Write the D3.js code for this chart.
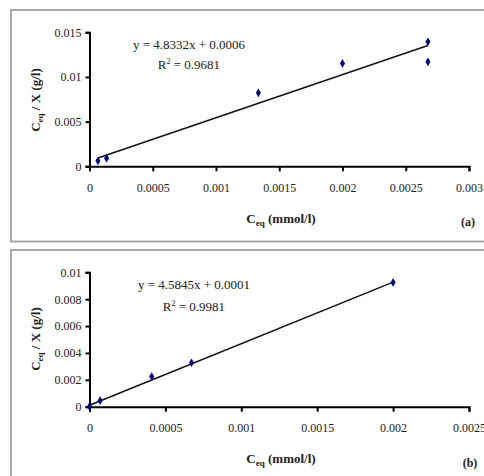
<!DOCTYPE html>
<html>
<head>
<meta charset="utf-8">
<script src="https://cdn.jsdelivr.net/npm/d3@7"></script>
<style>
  html, body { margin: 0; padding: 0; background: #fff; }
  svg { display: block; }
  text { font-family: "Liberation Serif", "Times New Roman", serif; }
</style>
</head>
<body>
<svg id="chart" width="484" height="476"></svg>
<script>
// ---- Data ----
// Panel (a)
const xA = [0.0000667, 0.000135, 0.001335, 0.002, 0.002675, 0.002675];
const yA = [0.00062, 0.00090, 0.00823, 0.01152, 0.01394, 0.01170];
const slopeA = 4.8332, interceptA = 0.0006;
const eqA = "y = 4.8332x + 0.0006";
const r2A = "0.9681";
const xTicksA = [0, 0.0005, 0.001, 0.0015, 0.002, 0.0025, 0.003];
const xTickLabelsA = ["0", "0.0005", "0.001", "0.0015", "0.002", "0.0025", "0.003"];
const yTicksA = [0, 0.005, 0.01, 0.015];
const yTickLabelsA = ["0", "0.005", "0.01", "0.015"];
const panelLabelA = "(a)";

// Panel (b)
const xB = [0, 0.00007, 0.00041, 0.000672, 0.002];
const yB = [0.00002, 0.00046, 0.00224, 0.00327, 0.00925];
const slopeB = 4.5845, interceptB = 0.0001;
const eqB = "y = 4.5845x + 0.0001";
const r2B = "0.9981";
const xTicksB = [0, 0.0005, 0.001, 0.0015, 0.002, 0.0025];
const xTickLabelsB = ["0", "0.0005", "0.001", "0.0015", "0.002", "0.0025"];
const yTicksB = [0, 0.002, 0.004, 0.006, 0.008, 0.01];
const yTickLabelsB = ["0", "0.002", "0.004", "0.006", "0.008", "0.01"];
const panelLabelB = "(b)";

const svg = d3.select("#chart");

function panel(cfg) {
  const g = svg.append("g");
  // frame
  g.append("rect")
    .attr("x", cfg.frame[0]).attr("y", cfg.frame[1])
    .attr("width", cfg.frame[2]).attr("height", cfg.frame[3])
    .attr("fill", "#fff").attr("stroke", "#a8a8a8").attr("stroke-width", 2);

  const x = d3.scaleLinear().domain([0, cfg.xMax]).range([cfg.left, cfg.right]);
  const y = d3.scaleLinear().domain([0, cfg.yMax]).range([cfg.bottom, cfg.top]);

  // trendline
  const xs = d3.extent(cfg.xs);
  g.append("line")
    .attr("x1", x(xs[0])).attr("y1", y(cfg.slope * xs[0] + cfg.intercept))
    .attr("x2", x(xs[1])).attr("y2", y(cfg.slope * xs[1] + cfg.intercept))
    .attr("stroke", "#111").attr("stroke-width", 1.6);

  // axes
  const ya = g.append("g").attr("transform", `translate(${cfg.left},0)`)
    .call(d3.axisLeft(y).tickValues(cfg.yTicks).tickSize(4).tickPadding(4)
      .tickFormat((d, i) => cfg.yLabels[i]));
  const xa = g.append("g").attr("transform", `translate(0,${cfg.bottom})`)
    .call(d3.axisBottom(x).tickValues(cfg.xTicks).tickSize(5).tickPadding(12)
      .tickFormat((d, i) => cfg.xLabels[i]));
  [ya, xa].forEach(a => {
    a.select(".domain").attr("stroke", "#000").attr("stroke-width", 2);
    a.selectAll(".tick line").attr("stroke", "#000").attr("stroke-width", 2);
    a.selectAll(".tick text").attr("fill", "#222").style("font-size", "12px")
      .style("font-family", '"Liberation Serif", "Times New Roman", serif');
  });

  // points (diamonds)
  const sym = d3.symbol().type(d3.symbolDiamond).size(22);
  g.selectAll("path.pt").data(cfg.xs.map((v, i) => [v, cfg.ys[i]])).enter()
    .append("path").attr("class", "pt")
    .attr("d", sym)
    .attr("transform", d => `translate(${x(d[0])},${y(d[1])})`)
    .attr("fill", "#000080");

  // equation text
  g.append("text").attr("x", cfg.eqX).attr("y", cfg.eqY)
    .attr("text-anchor", "middle").attr("fill", "#222").style("font-size", "13px")
    .text(cfg.eq);
  const r = g.append("text").attr("x", cfg.eqX).attr("y", cfg.r2Y)
    .attr("text-anchor", "middle").attr("fill", "#222").style("font-size", "13px");
  r.append("tspan").text("R");
  r.append("tspan").attr("dy", -5).style("font-size", "8px").text("2");
  r.append("tspan").attr("dy", 5).text(" = " + cfg.r2);

  // x title
  const xt = g.append("text").attr("x", cfg.xTitleX).attr("y", cfg.xTitleY)
    .attr("text-anchor", "middle").attr("fill", "#222")
    .style("font-size", "13px").style("font-weight", "bold");
  xt.append("tspan").text("C");
  xt.append("tspan").attr("dy", 3).style("font-size", "9px").text("eq");
  xt.append("tspan").attr("dy", -3).text(" (mmol/l)");

  // y title
  const yt = g.append("text")
    .attr("transform", `translate(${cfg.yTitleX},${cfg.yTitleY}) rotate(-90)`)
    .attr("text-anchor", "middle").attr("fill", "#222")
    .style("font-size", "13px").style("font-weight", "bold");
  yt.append("tspan").text("C");
  yt.append("tspan").attr("dy", 3).style("font-size", "9px").text("eq");
  yt.append("tspan").attr("dy", -3).text(" / X (g/l)");

  // panel label
  g.append("text").attr("x", cfg.labelX).attr("y", cfg.labelY)
    .attr("text-anchor", "middle").attr("fill", "#222")
    .style("font-size", "12px").style("font-weight", "bold").text(cfg.label);
}

panel({
  frame: [11, 10, 490, 231.5],
  left: 89.5, right: 469, top: 32.3, bottom: 166.3,
  xMax: 0.003, yMax: 0.015,
  xs: xA, ys: yA, slope: slopeA, intercept: interceptA,
  xTicks: xTicksA, xLabels: xTickLabelsA, yTicks: yTicksA, yLabels: yTickLabelsA,
  eq: eqA, r2: r2A, eqX: 189, eqY: 49, r2Y: 69,
  xTitleX: 281, xTitleY: 223, yTitleX: 40, yTitleY: 100,
  label: panelLabelA, labelX: 468, labelY: 226
});

panel({
  frame: [11, 250, 490, 240],
  left: 89.5, right: 469, top: 272.3, bottom: 406.7,
  xMax: 0.0025, yMax: 0.01,
  xs: xB, ys: yB, slope: slopeB, intercept: interceptB,
  xTicks: xTicksB, xLabels: xTickLabelsB, yTicks: yTicksB, yLabels: yTickLabelsB,
  eq: eqB, r2: r2B, eqX: 194, eqY: 289, r2Y: 311,
  xTitleX: 281, xTitleY: 463, yTitleX: 40, yTitleY: 339,
  label: panelLabelB, labelX: 470, labelY: 467
});
</script>
</body>
</html>
